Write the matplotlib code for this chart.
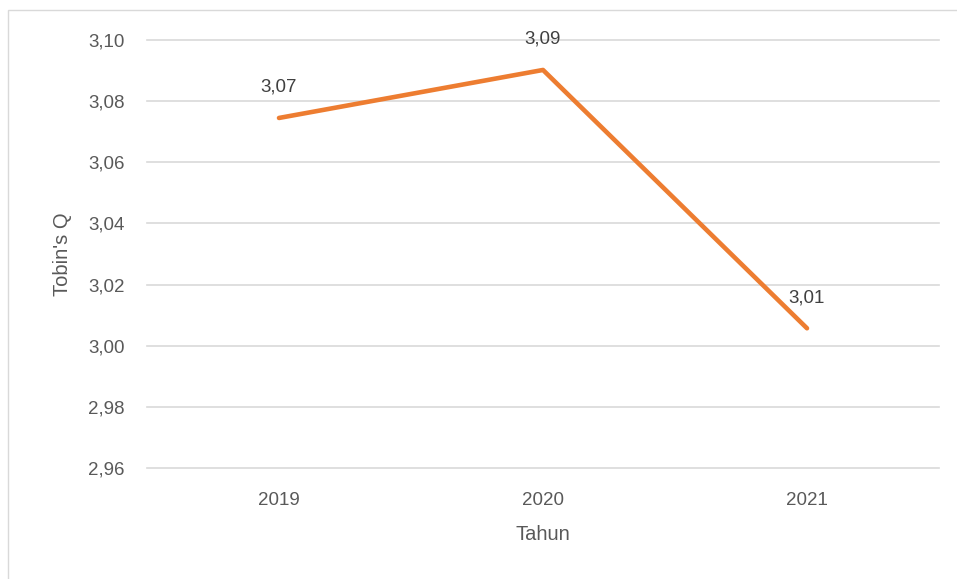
import numpy as np
import matplotlib.pyplot as plt
from matplotlib.patches import Rectangle

# data
years = ['2019', '2020', '2021']
tobins_q = [3.0745, 3.0902, 3.0057]
labels = ['3,07', '3,09', '3,01']
yticks = [2.96, 2.98, 3.00, 3.02, 3.04, 3.06, 3.08, 3.10]

txt = '#595959'
plt.rcParams['font.family'] = ['Liberation Sans', 'DejaVu Sans']

fig = plt.figure(figsize=(9.57, 5.79), dpi=100)
fig.patches.append(Rectangle((8 / 957, -0.1), 1.2, (579 - 10) / 579 + 0.1,
                             transform=fig.transFigure, fill=False,
                             edgecolor='#D9D9D9', linewidth=1))
ax = fig.add_axes([147 / 957, 1 - 468 / 579, (939 - 147) / 957, (468 - 40) / 579])

x = np.arange(len(years))
ax.plot(x, tobins_q, color='#ED7D31', linewidth=3.3, solid_capstyle='round', zorder=3)
for xi, v, lab in zip(x, tobins_q, labels):
    ax.annotate(lab, (xi, v), xytext=(0, 22), textcoords='offset points',
                ha='center', va='center', fontsize=13.5, color='#404040')

ax.set_xlim(-0.5, 2.5)
ax.set_ylim(2.96, 3.10)
ax.set_yticks(yticks)
ax.set_yticklabels([f'{t:.2f}'.replace('.', ',') for t in yticks])
ax.set_xticks(x)
ax.set_xticklabels(years)
ax.grid(axis='y', color='#D9D9D9', linewidth=1.2)
for gl in ax.get_ygridlines():
    gl.set_clip_on(False)
ax.set_axisbelow(True)
for s in ax.spines.values():
    s.set_visible(False)
ax.tick_params(length=0, labelsize=13.5, colors=txt)
ax.tick_params(axis='y', pad=16)
ax.tick_params(axis='x', pad=17)
ax.set_xlabel('Tahun', fontsize=14.5, color=txt, labelpad=12)
ax.set_ylabel("Tobin's Q", fontsize=14.5, color=txt, labelpad=12)

fig.savefig('out.png', dpi=100)
